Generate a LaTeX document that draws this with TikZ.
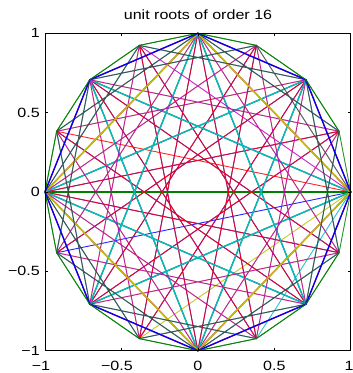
\documentclass[tikz,border=0pt]{standalone}
\usepackage{fontspec}
\newfontfamily\plotfont[FakeStretch=1.2]{Liberation Sans}
\usetikzlibrary{calc}
\definecolor{mblue}{rgb}{0,0,1}
\definecolor{mgreen}{rgb}{0,0.5,0}
\definecolor{mred}{rgb}{1,0,0}
\definecolor{mcyan}{rgb}{0,0.75,0.75}
\definecolor{mmagenta}{rgb}{0.75,0,0.75}
\definecolor{myellow}{rgb}{0.75,0.75,0}
\definecolor{mdark}{rgb}{0.25,0.25,0.25}
\tikzset{
  ord0/.style={draw=mblue},
  ord1/.style={draw=mgreen},
  ord2/.style={draw=mred},
  ord3/.style={draw=mcyan},
  ord4/.style={draw=mmagenta},
  ord5/.style={draw=myellow},
  ord6/.style={draw=mdark},
  chord/.style={line join=round},
  frame/.style={draw=black,line width=0.8pt},
  axtick/.style={draw=black,line width=0.6pt},
  ticklab/.style={font={\plotfont\fontsize{13.4}{16}\selectfont},inner sep=0pt}
}

\begin{document}
\begin{tikzpicture}[x=1pt,y=1pt]
\useasboundingbox (0,0) rectangle (353,373);
\node[ticklab,anchor=base](title) at (198,353.7){unit roots of order 16};
\begin{scope}[x=152.85pt,y=158.7pt,shift={(197.85pt,181pt)}]
% columns of the Fourier matrix, one colour each
\foreach \k/\w/\o in {1/0.9/0.85,2/1.2/1,3/0.9/0.85,4/1.4/1,5/0.9/0.85,
                      6/1.2/1,7/0.9/0.85,8/2.4/1,9/0.9/0.85,10/1.3/1,
                      11/0.9/0.85,12/1.5/1,13/1.0/0.85,14/1.3/1,15/0.9/0.85}{
  \pgfmathtruncatemacro\c{mod(\k,7)}
  \draw[chord,ord\c,line width=\w pt,draw opacity=\o](0:1)
    \foreach \j in {1,...,15}{ -- ({-22.5*\j*\k}:1)};
}
% axes box
\coordinate (sw) at (-1,-1);
\coordinate (ne) at (1,1);
\draw[frame](sw) rectangle (ne);
\foreach \v in {-0.5,0,0.5}{
  \draw[axtick](\v,-1) -- ++(0,3pt);
  \draw[axtick](\v,1) -- ++(0,-3pt);
  \draw[axtick](-1,\v) -- ++(3pt,0);
  \draw[axtick](1,\v) -- ++(-3pt,0);
}
% tick labels
\foreach \v/\t/\n in {1/1/a,0.5/0.5/b,0/0/c,-0.5/{−0.5}/d,-1/{−1}/e}
  \node[ticklab,anchor=east,xshift=-5pt](yl\n) at (-1,\v){\t};
\foreach \v/\t/\d/\n in {-1/{−1}/-4/a,-0.5/{−0.5}/-4.5/b,0/0/0/c,0.5/0.5/0/d,1/1/-1.5/e}
  \node[ticklab,anchor=base,xshift=\d pt,yshift=-19.8pt](xl\n) at (\v,-1){\t};
\end{scope}
\end{tikzpicture}
\end{document}
